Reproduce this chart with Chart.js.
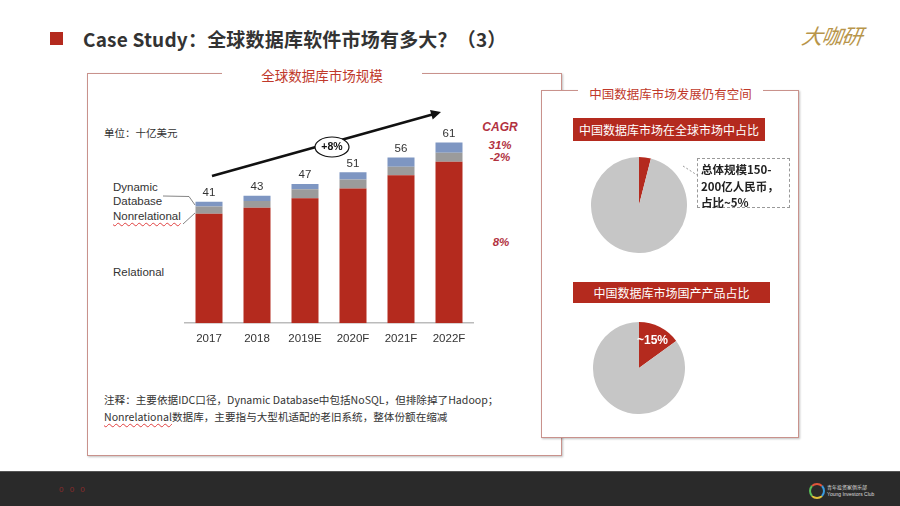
<!DOCTYPE html>
<html><head><meta charset="utf-8">
<script src="https://cdn.jsdelivr.net/npm/chart.js@4"></script>
<style>
body{margin:0;width:900px;height:506px;position:relative;background:#fff;overflow:hidden;font-family:"Noto Sans CJK SC","Noto Sans",sans-serif;color:#333;}
.abs{position:absolute;}
.panel{position:absolute;border:1px solid #C9928C;background:#fff;box-shadow:1px 1px 2px rgba(0,0,0,0.25);}
.ptitle{position:absolute;background:#fff;color:#C0392B;text-align:center;white-space:nowrap;}
.lat{font-family:"Liberation Sans",Arial,sans-serif;}
.banner{position:absolute;background:#B42A1E;color:#fff;text-align:center;font-size:12px;white-space:nowrap;}
.cagr{position:absolute;font-family:"Liberation Sans",Arial,sans-serif;font-style:italic;font-weight:bold;color:#B2323F;font-size:11.5px;text-align:center;width:50px;}
.wavy{text-decoration:underline wavy #E04040;text-decoration-thickness:1px;text-underline-offset:2px;}
</style></head><body>

<!-- title -->
<div class="abs" style="left:50px;top:32px;width:13px;height:13px;background:#B42A1E;"></div>
<div class="abs" style="left:83px;top:26px;font-size:19px;font-weight:bold;color:#333;white-space:nowrap;line-height:26px;letter-spacing:0.2px;">Case Study：全球数据库软件市场有多大？（3）</div>
<div class="abs" style="left:802px;top:20px;font-size:21px;font-style:italic;font-weight:normal;color:#B8954A;font-family:'Noto Sans CJK SC';letter-spacing:-1px;transform:skewX(-8deg);">大咖研</div>

<!-- left panel -->
<div class="panel" style="left:87px;top:73px;width:473px;height:381px;z-index:1;"></div>
<div class="ptitle" style="left:222px;top:65px;width:200px;font-size:13.5px;line-height:20px;z-index:2;">全球数据库市场规模</div>

<div class="abs" style="left:104px;top:125px;font-size:10.5px;z-index:3;">单位：十亿美元</div>
<div class="abs lat" style="left:113px;top:181px;font-size:11.5px;line-height:13.5px;z-index:3;">Dynamic<br>Database</div>
<div class="abs lat wavy" style="left:113px;top:209px;font-size:11.5px;line-height:14px;z-index:3;">Nonrelational</div>
<div class="abs lat" style="left:113px;top:265px;font-size:11.5px;line-height:14px;z-index:3;">Relational</div>

<div class="cagr" style="left:475px;top:120px;font-size:12px;z-index:3;">CAGR</div>
<div class="cagr" style="left:475px;top:139px;z-index:3;">31%</div>
<div class="cagr" style="left:475px;top:151px;z-index:3;">-2%</div>
<div class="cagr" style="left:476px;top:236px;z-index:3;">8%</div>

<div class="abs" style="left:100px;top:95px;width:380px;height:260px;z-index:3;"><canvas id="bar"></canvas></div>

<div class="abs" style="left:104px;top:391px;font-size:10.6px;line-height:17px;white-space:nowrap;z-index:3;">注释：主要依据IDC口径，Dynamic Database中包括NoSQL，但排除掉了Hadoop；<br><span class="wavy">Nonrelational</span>数据库，主要指与大型机适配的老旧系统，整体份额在缩减</div>

<!-- right panel -->
<div class="panel" style="left:541px;top:90px;width:256px;height:346px;z-index:5;"></div>
<div class="ptitle" style="left:578px;top:84px;width:185px;font-size:12.5px;line-height:20px;z-index:6;">中国数据库市场发展仍有空间</div>
<div class="banner" style="left:573px;top:118px;width:192px;height:23px;line-height:23px;z-index:6;">中国数据库市场在全球市场中占比</div>
<div class="abs" style="left:591px;top:157px;width:96px;height:96px;z-index:6;"><canvas id="pie1"></canvas></div>
<div class="abs" style="left:697px;top:158px;width:91px;height:48px;border:1px dashed #999;z-index:6;"></div>
<svg class="abs" style="left:680px;top:162px;z-index:6;" width="20" height="16"><line x1="3" y1="4" x2="17" y2="13" stroke="#999" stroke-dasharray="2,2"/></svg>
<div class="abs" style="left:701px;top:161px;font-size:11.5px;font-weight:bold;line-height:16.5px;color:#222;white-space:nowrap;z-index:7;">总体规模150-<br>200亿人民币，<br>占比~5%</div>

<div class="banner" style="left:573px;top:282px;width:197px;height:21px;line-height:21px;z-index:6;">中国数据库市场国产产品占比</div>
<div class="abs" style="left:593px;top:322px;width:92px;height:92px;z-index:6;"><canvas id="pie2"></canvas></div>
<div class="abs lat" style="left:637px;top:333px;font-size:12px;font-weight:bold;color:#fff;z-index:7;">~15%</div>

<!-- footer -->
<div class="abs" style="left:0;top:471px;width:900px;height:35px;background:#2a2a2a;border-top:1px solid #555;"></div>
<div class="abs lat" style="left:59px;top:485px;font-size:8px;color:#8a2a2a;letter-spacing:2px;">0 0 0</div>
<div class="abs" style="left:809px;top:483px;width:12px;height:12px;border-radius:50%;border:2px solid #c55;border-color:#e0553a #3a9be0 #e0c03a #5ac05a;"></div>
<div class="abs" style="left:827px;top:483px;font-size:5px;line-height:7px;color:#ddd;white-space:nowrap;">青年投资家俱乐部<br><span class="lat">Young Investors Club</span></div>

<script>
const categories = ['2017', '2018', '2019E', '2020F', '2021F', '2022F'];
const relational = [37, 39, 42.2, 45.5, 50, 54.5];
const nonrelational = [2.4, 2.3, 3.0, 3.0, 2.8, 3.1];
const dynamicDb = [1.6, 1.7, 1.8, 2.5, 3.2, 3.4];
const totalLabels = ['41', '43', '47', '51', '56', '61'];
const chinaShareGlobal = [4, 96];
const domesticShare = [15, 85];

const RED = '#B42A1E', GRAY = '#9B9B9B', BLUE = '#7E96C2', PIEGRAY = '#C6C6C6';

const overlay = {
  id: 'overlay',
  afterDatasetsDraw(chart) {
    const ctx = chart.ctx;
    const ox = 100, oy = 95;
    ctx.save();
    const meta = chart.getDatasetMeta(2);
    ctx.fillStyle = '#333';
    ctx.font = '11.5px "Liberation Sans", Arial, sans-serif';
    ctx.textAlign = 'center';
    ctx.textBaseline = 'bottom';
    meta.data.forEach((b, i) => ctx.fillText(totalLabels[i], b.x, b.y - 3));
    ctx.strokeStyle = '#666';
    ctx.lineWidth = 0.8;
    ctx.beginPath();
    ctx.moveTo(163 - ox, 196 - oy); ctx.lineTo(189 - ox, 196.5 - oy); ctx.lineTo(195 - ox, 205 - oy);
    ctx.moveTo(183 - ox, 224 - oy); ctx.lineTo(195 - ox, 213 - oy);
    ctx.stroke();
    const x1 = 212 - ox, y1 = 176 - oy, x2 = 441 - ox, y2 = 112 - oy;
    ctx.strokeStyle = '#111';
    ctx.lineWidth = 2.6;
    ctx.beginPath(); ctx.moveTo(x1, y1); ctx.lineTo(x2 - 6, y2 + 1.7); ctx.stroke();
    const ang = Math.atan2(y2 - y1, x2 - x1);
    ctx.fillStyle = '#111';
    ctx.beginPath();
    ctx.moveTo(x2, y2);
    ctx.lineTo(x2 - 10 * Math.cos(ang) + 5 * Math.sin(ang), y2 - 10 * Math.sin(ang) - 5 * Math.cos(ang));
    ctx.lineTo(x2 - 10 * Math.cos(ang) - 5 * Math.sin(ang), y2 - 10 * Math.sin(ang) + 5 * Math.cos(ang));
    ctx.closePath(); ctx.fill();
    ctx.beginPath();
    ctx.ellipse(332 - ox, 147 - oy, 17, 10, 0, 0, Math.PI * 2);
    ctx.fillStyle = '#fff'; ctx.fill();
    ctx.lineWidth = 1.2; ctx.strokeStyle = '#111'; ctx.stroke();
    ctx.fillStyle = '#111';
    ctx.font = 'bold 10.5px "Liberation Sans", Arial, sans-serif';
    ctx.textBaseline = 'middle';
    ctx.fillText('+8%', 332 - ox, 147.5 - oy);
    ctx.restore();
  }
};

new Chart(document.getElementById('bar'), {
  type: 'bar',
  data: {
    labels: categories,
    datasets: [
      { label: 'Relational', data: relational, backgroundColor: RED },
      { label: 'Nonrelational', data: nonrelational, backgroundColor: GRAY },
      { label: 'Dynamic Database', data: dynamicDb, backgroundColor: BLUE }
    ]
  },
  options: {
    responsive: true, maintainAspectRatio: false, animation: false,
    layout: { padding: { left: 85, right: 7, top: 15, bottom: 0 } },
    plugins: { legend: { display: false }, tooltip: { enabled: false } },
    datasets: { bar: { categoryPercentage: 1, barPercentage: 0.5625 } },
    scales: {
      x: {
        stacked: true,
        grid: { display: false, drawTicks: false },
        border: { display: true, color: '#BBBBBB', width: 1.5 },
        ticks: { color: '#333', padding: 9, font: { family: '"Liberation Sans", Arial, sans-serif', size: 11.5 } }
      },
      y: { stacked: true, display: false, min: 0, max: 72 }
    }
  },
  plugins: [overlay]
});

function pie(id, data) {
  new Chart(document.getElementById(id), {
    type: 'pie',
    data: { labels: ['China', 'Other'], datasets: [{ data: data, backgroundColor: [RED, PIEGRAY], borderWidth: 0 }] },
    options: {
      responsive: true, maintainAspectRatio: false, animation: false,
      layout: { padding: 0 },
      plugins: { legend: { display: false }, tooltip: { enabled: false } }
    }
  });
}
pie('pie1', chinaShareGlobal);
pie('pie2', domesticShare);
</script>
</body></html>
